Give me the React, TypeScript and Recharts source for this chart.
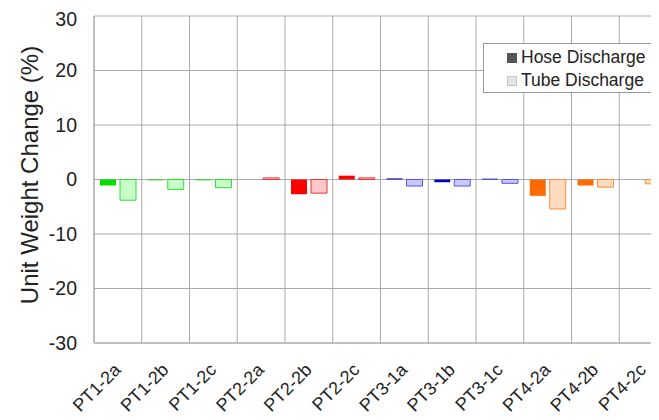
import React from "react";
import { BarChart, Bar, XAxis, YAxis, CartesianGrid, Cell } from "recharts";

const categories = ["PT1-2a", "PT1-2b", "PT1-2c", "PT2-2a", "PT2-2b", "PT2-2c", "PT3-1a", "PT3-1b", "PT3-1c", "PT4-2a", "PT4-2b", "PT4-2c"];
const hoseValues = [-1.1, -0.15, -0.15, 0, -2.7, 0.7, 0.2, -0.5, 0.15, -3.0, -1.1, 0];
const tubeValues = [-3.8, -1.8, -1.5, 0.3, -2.5, 0.3, -1.2, -1.2, -0.7, -5.4, -1.4, -0.8];
const yTicks = [-30, -20, -10, 0, 10, 20, 30];
const seriesNames = ["Hose Discharge", "Tube Discharge"];

const hoseColors = ["#00e000", "#00e000", "#00e000", "#ff0000", "#ff0000", "#ff0000", "#0000cc", "#0000cc", "#0000cc", "#ff6a00", "#ff6a00", "#ff6a00"];
const tubeFills = ["#c8ffc8", "#c8ffc8", "#c8ffc8", "#ffc8c8", "#ffc8c8", "#ffc8c8", "#c8c8ff", "#c8c8ff", "#c8c8ff", "#ffdcc0", "#ffdcc0", "#ffdcc0"];
const tubeStrokes = ["#33dd33", "#33dd33", "#33dd33", "#ee3333", "#ee3333", "#ee3333", "#5555ee", "#5555ee", "#5555ee", "#ff8a3a", "#ff8a3a", "#ff8a3a"];

const data = categories.map((c, i) => ({ name: c, hose: hoseValues[i], tube: tubeValues[i] }));

const FONT = '"Liberation Sans", Arial, sans-serif';

const XTick = (props: any) => {
  const { x, y, payload } = props;
  const ax = x + 4;
  const ay = y + 28;
  return (
    <text x={ax} y={ay} transform={`rotate(-45, ${ax}, ${ay})`} textAnchor="end" fontSize={18} fontFamily={FONT} fill="#222">
      {payload.value}
    </text>
  );
};

const LegendBox = () => (
  <div
    style={{
      position: "absolute",
      left: 475,
      top: 35,
      boxSizing: "border-box",
      width: 200,
      height: 50,
      border: "1px solid #999",
      background: "#fff",
      fontFamily: FONT,
      fontSize: 17.5,
      color: "#222",
      padding: "2px 0 0 23px",
    }}
  >
    <div style={{ display: "flex", alignItems: "center", height: 23 }}>
      <span style={{ display: "inline-block", width: 10, height: 10, background: "#555", marginRight: 4 }} />
      {seriesNames[0]}
    </div>
    <div style={{ display: "flex", alignItems: "center", height: 23 }}>
      <span style={{ display: "inline-block", boxSizing: "border-box", width: 10, height: 10, background: "#e4e4e4", border: "1px solid #c4c4c4", marginRight: 4 }} />
      {seriesNames[1]}
    </div>
  </div>
);

export default function App() {
  return (
    <div style={{ width: 651, height: 412, overflow: "hidden", position: "relative" }}>
      <BarChart
        width={680}
        height={412}
        data={data}
        margin={{ top: 8, right: 21, left: 0, bottom: 0 }}
        barCategoryGap={6}
        barGap={4}
      >
        <CartesianGrid
          stroke="#aaa"
          strokeWidth={1}
          verticalCoordinatesGenerator={(args: any) => {
            const off = args.offset;
            return Array.from({ length: 13 }, (_, i) => off.left + (i * off.width) / 12);
          }}
        />
        <XAxis
          dataKey="name"
          interval={0}
          height={77}
          tickLine={false}
          tickSize={0}
          tickMargin={0}
          axisLine={{ stroke: "#aaa" }}
          tick={<XTick />}
        />
        <YAxis
          domain={[-30, 30]}
          ticks={yTicks}
          width={86}
          tickLine={false}
          tickSize={0}
          tickMargin={17}
          axisLine={{ stroke: "#aaa" }}
          tick={{ fontSize: 19.5, fontFamily: FONT, fill: "#222" }}
          label={{
            content: () => (
              <text
                x={21}
                y={167}
                transform="rotate(-90, 21, 167)"
                textAnchor="middle"
                dominantBaseline="central"
                fontSize={24}
                fontFamily={FONT}
                fill="#222"
              >
                Unit Weight Change (%)
              </text>
            ),
          }}
        />
        <Bar dataKey="hose" name={seriesNames[0]} isAnimationActive={false}>
          {data.map((d, i) => (
            <Cell key={`h${i}`} fill={hoseColors[i]} />
          ))}
        </Bar>
        <Bar dataKey="tube" name={seriesNames[1]} isAnimationActive={false}>
          {data.map((d, i) => (
            <Cell key={`t${i}`} fill={tubeFills[i]} stroke={tubeStrokes[i]} strokeWidth={1} />
          ))}
        </Bar>
      </BarChart>
      <LegendBox />
    </div>
  );
}
